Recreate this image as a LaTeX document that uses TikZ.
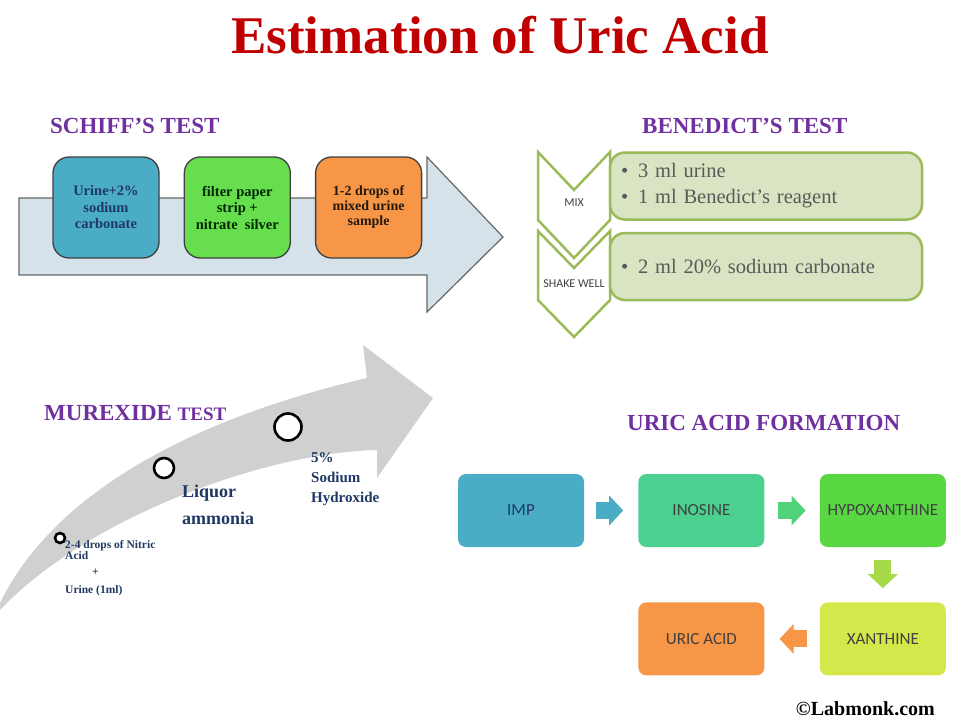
\documentclass[tikz,border=0pt]{standalone}
\usepackage{fontspec}
\setmainfont{Liberation Serif}
\newfontfamily\calibri{Carlito}
\usetikzlibrary{arrows.meta,positioning}
\definecolor{titlered}{HTML}{C00000}
\definecolor{headpurple}{HTML}{7030A0}
\definecolor{navy}{HTML}{1F3864}
\definecolor{boxblue}{HTML}{4BACC6}
\definecolor{boxgreen}{HTML}{66DE4E}
\definecolor{boxorange}{HTML}{F79646}
\definecolor{olive}{HTML}{9BBB59}
\definecolor{palegreen}{HTML}{D8E4C2}
\definecolor{schiffgray}{HTML}{D5E2EA}
\definecolor{arrowgray}{HTML}{D0D0D0}
\definecolor{mint}{HTML}{4BD08F}
\definecolor{lime}{HTML}{58D742}
\definecolor{yellowgreen}{HTML}{D4E84B}
\definecolor{arrowmint}{HTML}{50D27A}
\definecolor{arrowlime}{HTML}{A6DA48}
\begin{document}
\begin{tikzpicture}[x=1pt,y=-1pt,
  heading/.style={anchor=base west,inner sep=0,text=headpurple,font=\fontsize{23}{23}\selectfont\bfseries},
  schiffbox/.style={draw=black!75,line width=1.3pt,rounded corners=16pt,minimum width=106pt,minimum height=101pt,align=center,inner sep=2pt,font=\fontsize{14.5}{16.5}\selectfont\bfseries},
  benbox/.style={draw=olive,line width=2.5pt,fill=palegreen,rounded corners=15pt,minimum height=67pt,text width=290pt,inner xsep=11pt,align=left,text=black!65,font=\fontsize{20.5}{26}\selectfont},
  chevron/.style={draw=olive,line width=2.5pt,fill=white,line join=miter},
  steplabel/.style={text=black!75,font=\calibri\fontsize{12}{12}\selectfont},
  stepdot/.style={circle,draw=black,line width=2.6pt,fill=white,inner sep=0},
  murtext/.style={anchor=north west,inner sep=0,align=left,text=navy,font=\bfseries},
  formbox/.style={rounded corners=8pt,minimum width=126pt,minimum height=73pt,text=black!75,font=\calibri\fontsize{17}{17}\selectfont},
  blockarrow/.style={line width=17pt,-{Triangle[length=14pt,width=29pt]},shorten <=13pt,shorten >=14pt}]
\useasboundingbox (0,0) rectangle (960,720);
\fill[white] (0,0) rectangle (960,720);

% title and headings
\node[anchor=base,inner sep=0,text=titlered,font=\fontsize{53}{53}\selectfont\bfseries] (title) at (500,53) {Estimation of Uric Acid};
\node[heading] (schiffhead) at (50,133) {SCHIFF’S TEST};
\node[heading] (benhead) at (642,133) {BENEDICT’S TEST};
\node[heading] (murhead) at (44,420) {MUREXIDE {\fontsize{19}{19}\selectfont TEST}};
\node[heading] (formhead) at (627,430) {URIC ACID FORMATION};

% Schiff's test
\draw[fill=schiffgray,draw=black!60,line width=1.2pt] (19,198) -- (427,198) -- (427,157) -- (503,237)
  -- (427,312) -- (427,275) -- (19,275) -- cycle;
\node[schiffbox,fill=boxblue,text=navy] (urine) at (106,207.5) {Urine+2\%\\sodium\\carbonate};
\node[schiffbox,fill=boxgreen,text=black!85!green,right=24pt of urine] (strip) {filter paper\\strip +\\nitrate\ \ silver};
\node[schiffbox,fill=boxorange,text=black!80!brown,right=24pt of strip,font=\fontsize{14}{15}\selectfont\bfseries] (drops) {1-2 drops of\\mixed urine\\sample};

% Benedict's test
\draw[chevron] (538,231) -- (574,268) -- (610,231) -- (610,300) -- (574,337) -- (538,300) -- cycle;
\draw[chevron] (538,152) -- (574,190) -- (610,152) -- (610,220) -- (574,258) -- (538,220) -- cycle;
\node[steplabel] (mix) at (574,203) {MIX};
\node[steplabel] (shake) at (574,284) {SHAKE WELL};
\node[benbox] (reagents) at (766,186) {\makebox[17pt][l]{\textbullet}3 ml urine\\\makebox[17pt][l]{\textbullet}1 ml Benedict’s reagent};
\node[benbox] (carbonate) at (766,266.5) {\makebox[17pt][l]{\textbullet}2 ml 20\% sodium carbonate};

% Murexide test
\fill[arrowgray] (0,603) .. controls (60,480) and (220,412) .. (367,378) -- (363,345) -- (433,398)
  -- (377,478) -- (377,450) .. controls (270,452) and (90,515) .. (0,610) -- cycle;
\node[stepdot,minimum size=10pt] (dotacid) at (60,538) {};
\node[stepdot,minimum size=20pt] (dotammonia) at (164,468) {};
\node[stepdot,minimum size=27pt] (dothydroxide) at (288,427) {};
\node[murtext,font=\fontsize{11.5}{11}\selectfont\bfseries] (acid) at (65,540) {2-4 drops of Nitric\\Acid\\[5pt]\hspace{27pt}+\\[7pt]Urine (1ml)};
\node[murtext,font=\fontsize{18}{27}\selectfont\bfseries] (ammonia) at (182,485) {Liquor\\ammonia};
\node[murtext,font=\fontsize{15}{20}\selectfont\bfseries] (hydroxide) at (311,452) {5\%\\Sodium\\Hydroxide};

% uric acid formation
\node[formbox,fill=boxblue,text=navy] (imp) at (521,510.5) {IMP};
\node[formbox,fill=mint,right=54pt of imp] (inosine) {INOSINE};
\node[formbox,fill=lime,right=55pt of inosine] (hypo) {HYPOXANTHINE};
\node[formbox,fill=yellowgreen,below=55pt of hypo] (xanthine) {XANTHINE};
\node[formbox,fill=boxorange,left=55pt of xanthine] (uric) {URIC ACID};
\draw[blockarrow,draw=boxblue,shorten <=12pt,shorten >=15pt] (imp) -- (inosine);
\draw[blockarrow,draw=arrowmint] (inosine) -- (hypo);
\draw[blockarrow,draw=arrowlime] (hypo) -- (xanthine);
\draw[blockarrow,draw=boxorange,shorten >=15pt] (xanthine) -- (uric);

\node[anchor=base east,inner sep=0,font=\fontsize{20}{20}\selectfont\bfseries] (credit) at (935,715) {©Labmonk.com};
\end{tikzpicture}
\end{document}
